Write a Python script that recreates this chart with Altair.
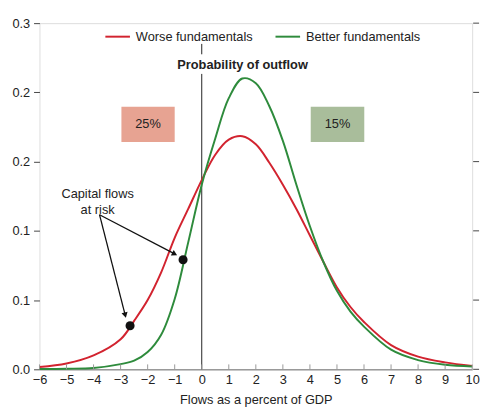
import altair as alt
import pandas as pd

# ---- data ----
x_vals = [-6, -5, -4, -3, -2.5, -2, -1.5, -1, -0.5, 0, 0.5, 1, 1.5, 2, 2.5, 3, 3.5, 4, 4.5, 5, 5.5, 6, 7, 8, 9, 10]
worse = [0.002, 0.005, 0.012, 0.026, 0.042, 0.060, 0.084, 0.114, 0.139, 0.164, 0.186, 0.199, 0.202, 0.195, 0.179, 0.160, 0.139, 0.116, 0.093, 0.071, 0.054, 0.041, 0.021, 0.011, 0.006, 0.003]
better = [0.0002, 0.0005, 0.0012, 0.0045, 0.0075, 0.015, 0.030, 0.061, 0.110, 0.160, 0.200, 0.235, 0.252, 0.248, 0.228, 0.198, 0.160, 0.124, 0.093, 0.068, 0.050, 0.037, 0.017, 0.008, 0.004, 0.0025]
series_names = ["Worse fundamentals", "Better fundamentals"]
series_colors = ["#d2232f", "#2e8b3c"]

x_ticks = list(range(-6, 11))
y_ticks = [0, 0.06, 0.12, 0.18, 0.24, 0.3]

box_labels = ["25%", "15%"]
box_x = [-2.97, 4.03]
box_x2 = [-1.0, 6.01]
box_y = [0.197, 0.197]
box_y2 = [0.2275, 0.2275]
box_colors = ["#e7a392", "#a9bd9b"]

risk_x = [-2.65, -0.69]
risk_y = [0.0377, 0.095]

arrow_x = [-3.78, -3.78]
arrow_y = [0.134, 0.134]
arrow_x2 = [-1.0, -2.83]
arrow_y2 = [0.100, 0.047]
arrow_angle = [117, 166]

vline_y = [0, 0.273]
vline_y2 = [0.256, 0.282]

FONT = "Liberation Sans"
TXT = "#222222"
W, H = 440, 352

curves = pd.DataFrame({
    "x": x_vals * 2,
    "y": worse + better,
    "series": [series_names[0]] * len(x_vals) + [series_names[1]] * len(x_vals),
})
boxes = pd.DataFrame({"label": box_labels, "x": box_x, "x2": box_x2, "y": box_y, "y2": box_y2, "c": box_colors})
boxes["xm"] = (boxes.x + boxes.x2) / 2
boxes["ym"] = (boxes.y + boxes.y2) / 2
pts = pd.DataFrame({"x": risk_x, "y": risk_y})
arrows = pd.DataFrame({"x": arrow_x, "y": arrow_y, "x2": arrow_x2, "y2": arrow_y2, "a": arrow_angle})
vline = pd.DataFrame({"x": [0, 0], "y": vline_y, "y2": vline_y2})
tickdf = pd.DataFrame({"x": x_ticks})
ytickdf = pd.DataFrame({"y": y_ticks})

xs = alt.Scale(domain=[-6, 10], nice=False, zero=False)
ys = alt.Scale(domain=[0, 0.3], nice=False)

x_axis = alt.Axis(
    values=x_ticks, format="d", title="Flows as a percent of GDP", ticks=False, labelOverlap=False,
    labelFlush=False, domainColor="#999999", domainWidth=1.5, labelFont=FONT, labelFontSize=13,
    labelColor=TXT, labelPadding=4, titleFont=FONT, titleFontSize=13, titleFontWeight="normal",
    titleColor=TXT, titlePadding=8, grid=False)
y_axis = alt.Axis(
    values=y_ticks, format=".1f", title=None, domain=False, tickSize=6, tickColor="#444444",
    labelOverlap=False, labelFlush=False, labelFont=FONT, labelFontSize=13, labelColor=TXT,
    labelPadding=4, grid=False)


def X(field):
    return alt.X(field, scale=xs, axis=x_axis)


def Y(field):
    return alt.Y(field, scale=ys, axis=y_axis)


lines = alt.Chart(curves).mark_line(strokeWidth=2, interpolate="catmull-rom").encode(
    x=X("x:Q"), y=Y("y:Q"),
    color=alt.Color("series:N", scale=alt.Scale(domain=series_names, range=series_colors),
                    legend=alt.Legend(title=None, orient="none", legendX=66, legendY=0,
                                      direction="horizontal", symbolType="stroke",
                                      symbolStrokeWidth=2, symbolSize=625, labelFont=FONT,
                                      labelFontSize=13, labelColor=TXT, columnPadding=19,
                                      labelOffset=5)),
    order=alt.Order("series:N", sort="descending"),
)

xt = alt.Chart(tickdf).mark_rule(color="#999999", strokeWidth=1).encode(
    x=X("x:Q"), y=alt.value(H), y2=alt.value(H - 5))

yt = alt.Chart(ytickdf).mark_rule(color="#444444", strokeWidth=1).encode(
    y=Y("y:Q"), x=alt.value(W + 1), x2=alt.value(W + 7))

vl = alt.Chart(vline).mark_rule(color="#222222", strokeWidth=1).encode(
    x=X("x:Q"), y=Y("y:Q"), y2="y2:Q")

prob = alt.Chart(pd.DataFrame({"x": [1.51], "y": [0.264], "t": ["Probability of outflow"]})).mark_text(
    font=FONT, fontSize=13, fontWeight="bold", color=TXT, baseline="middle", align="center").encode(
    x=X("x:Q"), y=Y("y:Q"), text="t:N")

rect_layers = []
for i in range(len(box_labels)):
    rect_layers.append(alt.Chart(boxes.iloc[[i]]).mark_rect(color=box_colors[i]).encode(
        x=X("x:Q"), x2="x2:Q", y=Y("y:Q"), y2="y2:Q"))

rtext = alt.Chart(boxes).mark_text(font=FONT, fontSize=13, color=TXT, baseline="middle").encode(
    x=X("xm:Q"), y=Y("ym:Q"), text="label:N")

ann = alt.Chart(pd.DataFrame({"x": [-3.85], "y": [0.1517], "t": ["Capital flows\nat risk"]})).mark_text(
    font=FONT, fontSize=13, color=TXT, lineBreak="\n", lineHeight=16, baseline="middle", align="center").encode(
    x=X("x:Q"), y=Y("y:Q"), text="t:N")

arr = alt.Chart(arrows).mark_rule(color="#111111", strokeWidth=1.3).encode(
    x=X("x:Q"), y=Y("y:Q"), x2="x2:Q", y2="y2:Q")

heads = alt.Chart(arrows).mark_point(shape="triangle-up", filled=True, color="#111111", size=40, opacity=1).encode(
    x=X("x2:Q"), y=Y("y2:Q"), angle=alt.Angle("a:Q", scale=None))

dots = alt.Chart(pts).mark_circle(color="#111111", size=85, opacity=1).encode(
    x=X("x:Q"), y=Y("y:Q"))

chart = alt.layer(*rect_layers, rtext, vl, prob, lines, xt, yt, arr, heads, dots, ann).properties(
    width=W, height=H, autosize=alt.AutoSizeParams(type="none"),
    padding={"left": 32, "top": 12, "right": 11, "bottom": 40},
).configure_view(stroke=None).configure(background="white")

chart.save("out.html", embed_options={"renderer": "svg", "actions": False})
